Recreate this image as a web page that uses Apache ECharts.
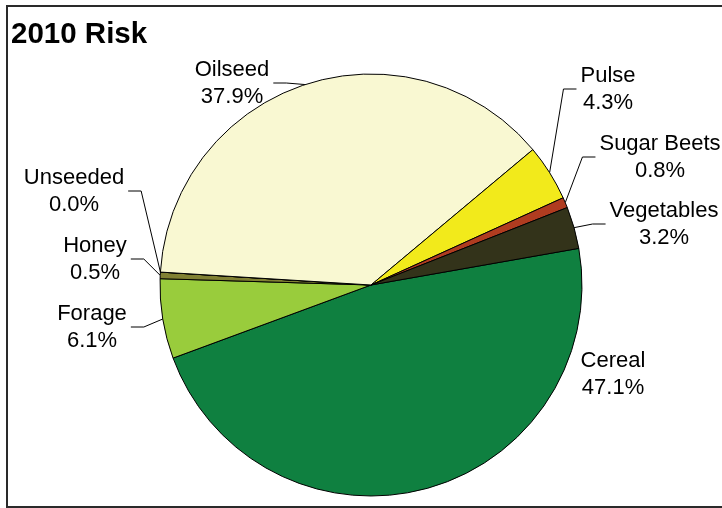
<!DOCTYPE html>
<html>
<head>
<meta charset="utf-8">
<script src="https://cdn.jsdelivr.net/npm/echarts@6/dist/echarts.min.js"></script>
<style>
html,body{margin:0;padding:0;background:#fff;}
#chart{width:722px;height:508px;}
</style>
</head>
<body>
<div id="chart"></div>
<script>
// Data (clockwise order, starting from the right side)
var categories = ['Cereal', 'Forage', 'Honey', 'Unseeded', 'Oilseed', 'Pulse', 'Sugar Beets', 'Vegetables'];
var values = [47.1, 6.1, 0.5, 0.0, 37.9, 4.3, 0.8, 3.2];
var colors = ['#0f8040', '#99cc3c', '#808033', '#e8e8b0', '#f9f8d2', '#f2ea1b', '#b03c20', '#33331a'];

// Label placement (centre of each label block) - layout only
var labelCenters = [
  [613, 374], [92, 327], [95, 259], [74, 191],
  [232, 83], [608, 89], [660, 157], [664, 224]
];
var labelSide = [0, -1, -1, -1, -1, 1, 1, 1]; // which side the leader line comes from
var showLine = [false, true, true, true, true, true, true, true];

var chart = echarts.init(document.getElementById('chart'), null, {renderer: 'canvas'});

var data = categories.map(function (c, i) {
  return {
    name: c,
    value: values[i],
    itemStyle: {color: colors[i]},
    labelLine: {show: showLine[i]}
  };
});

chart.setOption({
  animation: false,
  backgroundColor: '#ffffff',
  title: {
    text: '2010 Risk',
    left: 11,
    top: 20,
    padding: 0,
    textStyle: {
      fontFamily: 'Liberation Sans, Arial, sans-serif',
      fontSize: 29.5,
      fontWeight: 'bold',
      color: '#000'
    }
  },
  graphic: [{
    type: 'rect',
    shape: {x: 7, y: 6, width: 740, height: 501},
    style: {fill: 'none', stroke: '#2a2a2a', lineWidth: 2},
    silent: true,
    z: -10
  }],
  series: [{
    type: 'pie',
    center: [371, 285],
    radius: 211,
    startAngle: 10,
    clockwise: true,
    avoidLabelOverlap: false,
    data: data,
    itemStyle: {borderColor: '#000', borderWidth: 1},
    label: {
      show: true,
      position: 'outside',
      fontFamily: 'Liberation Sans, Arial, sans-serif',
      fontSize: 22,
      lineHeight: 27,
      color: '#000',
      align: 'center',
      formatter: function (p) {
        return p.name + '\n' + Number(p.value).toFixed(1) + '%';
      }
    },
    labelLine: {
      show: true,
      length: 10,
      length2: 10,
      lineStyle: {color: '#000', width: 1}
    },
    labelLayout: function (params) {
      var i = params.dataIndex;
      var c = labelCenters[i];
      var w = params.labelRect.width;
      var res = {x: c[0], y: c[1], align: 'center', verticalAlign: 'middle'};
      var side = labelSide[i];
      if (side !== 0 && params.labelLinePoints) {
        var edge = params.labelLinePoints[0];
        var endX = side > 0 ? c[0] - w / 2 - 4 : c[0] + w / 2 + 4;
        var bendX = side > 0 ? endX - 13 : endX + 13;
        res.labelLinePoints = [edge, [bendX, c[1]], [endX, c[1]]];
      }
      return res;
    }
  }]
});
</script>
</body>
</html>
